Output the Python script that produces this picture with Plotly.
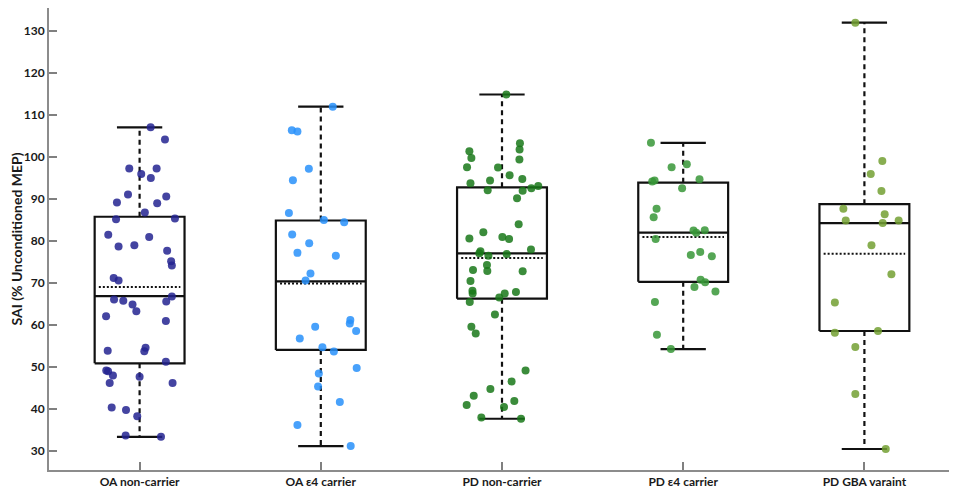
import plotly.graph_objects as go

groups = ["OA non-carrier", "OA ε4 carrier", "PD non-carrier", "PD ε4 carrier", "PD GBA varaint"]
colors = ["rgba(35,35,145,0.85)", "rgba(40,145,250,0.85)", "rgba(25,120,25,0.85)",
          "rgba(55,150,55,0.85)", "rgba(115,160,50,0.85)"]

# box statistics
upper = [107.1, 112.0, 114.9, 103.4, 132.0]
q3 = [85.8, 84.9, 92.8, 93.9, 88.8]
median = [66.9, 70.4, 77.1, 82.0, 84.3]
mean = [69.1, 69.9, 76.0, 81.0, 77.0]
q1 = [50.9, 54.1, 66.3, 70.3, 58.6]
lower = [33.4, 31.2, 37.7, 54.3, 30.5]

# individual points (value, horizontal jitter in category units)
oa_nc_y = [107.1, 104.2, 97.3, 97.3, 96.0, 95.0, 91.1, 90.6, 89.2, 89.0, 86.8, 85.2, 85.4, 81.5, 81.0,
           78.7, 79.0, 77.7, 75.2, 74.2, 71.2, 70.6, 66.8, 66.1, 65.8, 64.9, 65.6, 63.3, 62.1, 61.0,
           53.9, 54.6, 53.8, 51.3, 49.2, 49.0, 48.0, 47.7, 46.2, 46.2, 40.4, 39.8, 38.3, 33.7, 33.4]
oa_nc_x = [0.061, 0.140, -0.057, 0.094, 0.009, 0.062, -0.064, 0.147, -0.125, 0.097, 0.029, -0.130, 0.195,
           -0.173, 0.053, -0.116, -0.029, 0.152, 0.174, 0.178, -0.143, -0.116, 0.178, -0.141, -0.090,
           -0.039, 0.147, -0.018, -0.185, 0.145, -0.176, 0.033, 0.026, 0.145, -0.184, -0.174, -0.147,
           0.000, -0.165, 0.182, -0.154, -0.075, -0.013, -0.077, 0.118]

oa_e4_y = [112.0, 106.4, 106.1, 97.2, 94.5, 86.7, 85.0, 84.5, 81.6, 79.5, 77.2, 76.5, 72.3, 70.6,
           61.2, 60.4, 59.6, 58.6, 56.8, 54.7, 53.7, 49.8, 48.5, 45.4, 41.7, 36.2, 31.2]
oa_e4_x = [0.066, -0.160, -0.129, -0.066, -0.154, -0.176, 0.017, 0.129, -0.158, -0.064, -0.129, 0.083,
           -0.057, -0.084, 0.163, 0.160, -0.031, 0.195, -0.116, 0.009, 0.072, 0.198, -0.011, -0.015,
           0.105, -0.129, 0.165]

pd_nc_y = [114.9, 103.3, 101.8, 101.4, 99.8, 99.4, 97.6, 97.5, 95.7, 94.8, 94.4, 93.8, 92.1, 92.0,
           92.6, 93.1, 90.2, 84.0, 82.1, 80.6, 81.0, 80.5, 78.0, 77.6, 77.1, 76.5, 76.9, 74.3, 72.9,
           73.1, 72.8, 70.5, 68.2, 67.5, 67.9, 67.5, 66.6, 65.5, 62.5, 59.6, 58.0, 49.2, 46.6, 44.8,
           43.2, 41.9, 41.0, 40.5, 38.0, 37.7]
pd_nc_x = [0.024, 0.099, 0.097, -0.180, -0.169, 0.096, -0.193, -0.022, 0.042, 0.112, -0.066, -0.174,
           -0.079, 0.114, 0.162, 0.200, 0.083, 0.092, -0.103, -0.180, 0.002, 0.039, 0.160, -0.119,
           -0.125, -0.075, 0.026, -0.083, -0.081, -0.160, 0.114, -0.174, -0.163, -0.162, 0.077, 0.015,
           -0.015, -0.178, -0.039, -0.169, -0.145, 0.130, 0.053, -0.064, -0.156, 0.068, -0.195, 0.011,
           -0.114, 0.105]

pd_e4_y = [103.4, 97.6, 98.3, 94.2, 94.4, 94.7, 92.6, 87.7, 85.7, 82.5, 82.0, 82.6, 80.5, 76.7, 77.4,
           76.4, 70.8, 70.2, 69.1, 68.0, 65.5, 57.7, 54.3]
pd_e4_x = [-0.178, -0.064, 0.020, -0.171, -0.158, 0.090, -0.006, -0.147, -0.163, 0.057, 0.072, 0.119,
           -0.152, 0.042, 0.094, 0.158, 0.096, 0.121, 0.062, 0.178, -0.156, -0.145, -0.068]

pd_gba_y = [132.0, 99.1, 96.0, 91.9, 87.7, 86.4, 84.9, 84.3, 84.9, 79.0, 72.1, 65.4, 58.2, 58.6, 54.8,
            43.6, 30.5]
pd_gba_x = [-0.050, 0.099, 0.035, 0.094, -0.116, 0.112, -0.103, 0.101, 0.189, 0.039, 0.149, -0.163,
            -0.163, 0.075, -0.050, -0.050, 0.118]

points_y = [oa_nc_y, oa_e4_y, pd_nc_y, pd_e4_y, pd_gba_y]
points_x = [oa_nc_x, oa_e4_x, pd_nc_x, pd_e4_x, pd_gba_x]

box_half = 0.248
cap_half = 0.125
mean_half = 0.225

fig = go.Figure()

# boxes, median, whiskers, caps, mean
bx, by, wx, wy, cx, cy, mx, my = [], [], [], [], [], [], [], []
for i in range(len(groups)):
    l, r = i - box_half, i + box_half
    bx += [l, r, r, l, l, None, l, r, None]
    by += [q1[i], q1[i], q3[i], q3[i], q1[i], None, median[i], median[i], None]
    wx += [i, i, None, i, i, None]
    wy += [q3[i], upper[i], None, q1[i], lower[i], None]
    cx += [i - cap_half, i + cap_half, None, i - cap_half, i + cap_half, None]
    cy += [upper[i], upper[i], None, lower[i], lower[i], None]
    mx += [i - mean_half, i + mean_half, None]
    my += [mean[i], mean[i], None]

line_col = "#111111"
fig.add_trace(go.Scatter(x=wx, y=wy, mode="lines", line=dict(color=line_col, width=2.2, dash="5px,4px"),
                         hoverinfo="skip"))
fig.add_trace(go.Scatter(x=cx, y=cy, mode="lines", line=dict(color=line_col, width=2.2), hoverinfo="skip"))
fig.add_trace(go.Scatter(x=bx, y=by, mode="lines", line=dict(color=line_col, width=2.2), hoverinfo="skip"))
fig.add_trace(go.Scatter(x=mx, y=my, mode="lines", line=dict(color=line_col, width=2, dash="2px,2px"),
                         hoverinfo="skip"))

for i, g in enumerate(groups):
    fig.add_trace(go.Scatter(
        x=[i + d for d in points_x[i]], y=points_y[i], mode="markers", name=g,
        marker=dict(size=8, color=colors[i], line=dict(width=0))
    ))

axis_font = dict(family="Lato, Open Sans, sans-serif", size=12, color="#1a1a1a", weight="bold")

# page body adds an 8px margin, so the figure is a bit smaller than the window
fig.update_layout(
    width=949, height=481,
    margin=dict(l=41, r=2, t=0, b=19),
    plot_bgcolor="white", paper_bgcolor="white",
    showlegend=False,
    xaxis=dict(range=[-0.5, 4.5], tickvals=list(range(len(groups))), ticktext=groups,
               ticks="inside", ticklen=8, tickcolor="#808080", tickwidth=1.5,
               showline=True, linecolor="#8c8c8c", linewidth=1.8,
               showgrid=False, zeroline=False, tickfont=axis_font),
    yaxis=dict(range=[25.5, 135.5], tickvals=list(range(30, 131, 10)),
               ticks="inside", ticklen=8, tickcolor="#808080", tickwidth=1.5,
               showline=True, linecolor="#8c8c8c", linewidth=1.8,
               showgrid=False, zeroline=False, tickfont=axis_font,
               title=dict(text="SAI (% Unconditioned MEP)", standoff=4,
                          font=dict(family="Lato, Open Sans, sans-serif", size=14,
                                    color="#1a1a1a", weight="bold"))),
)

fig.write_html("out.html")
